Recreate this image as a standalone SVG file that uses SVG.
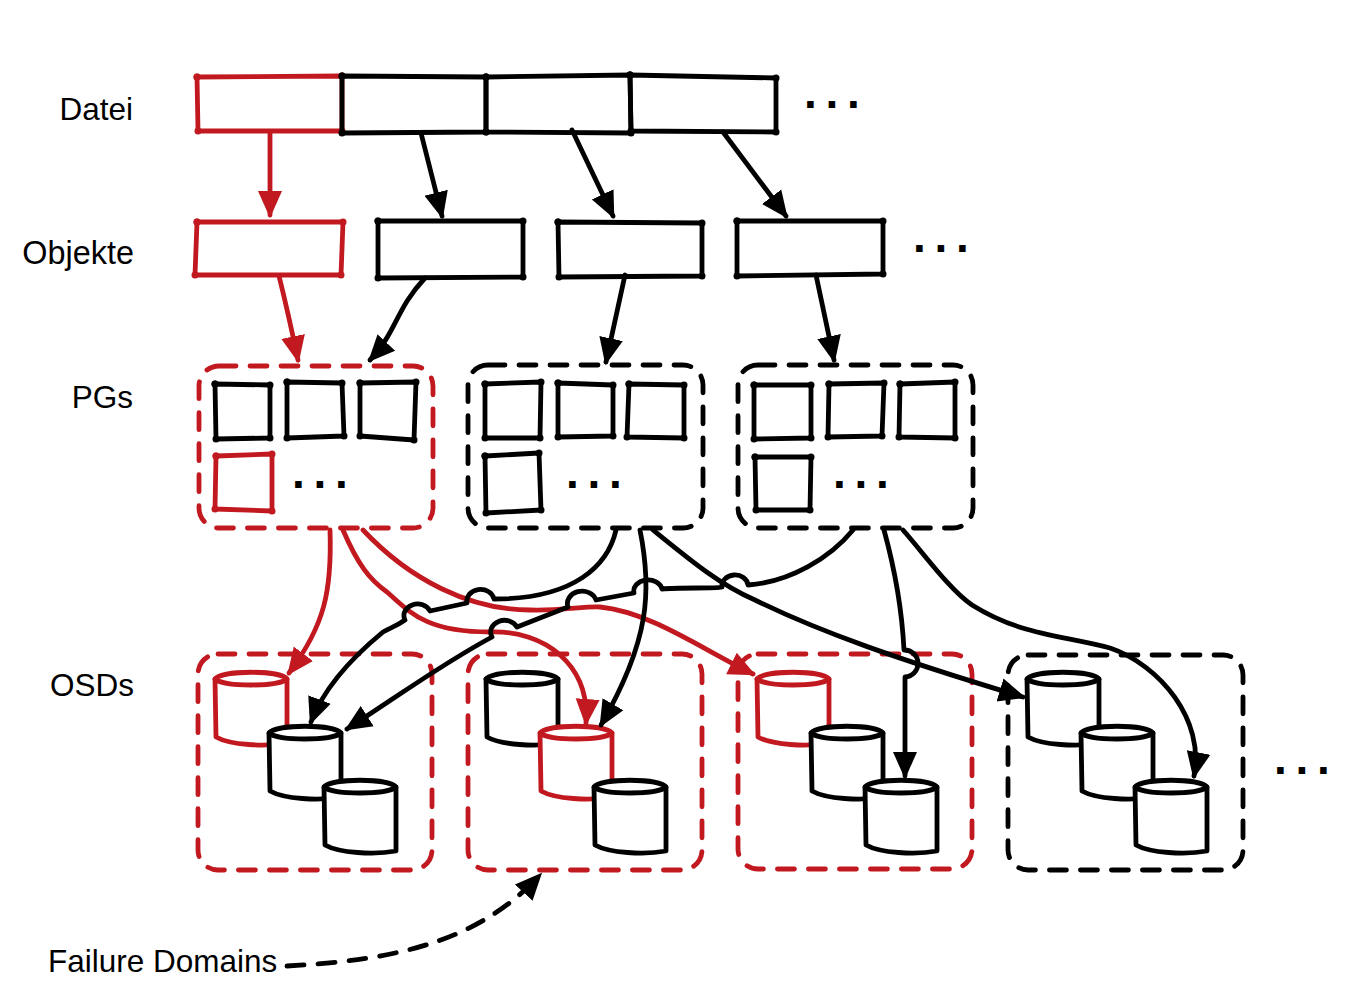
<svg xmlns="http://www.w3.org/2000/svg" xmlns:xlink="http://www.w3.org/1999/xlink" width="1366" height="990" viewBox="0 0 1366 990">
<style>
text{font-family:"Liberation Sans",Arial,sans-serif;font-size:31.5px;fill:#000}
.dots{font-weight:bold;font-size:46px;letter-spacing:8.7px}
.k,.r{fill:none;stroke-width:4.8;stroke-linejoin:round;stroke-linecap:round}
.k{stroke:#000}
.r{stroke:#c1191f}
.kd{marker-start:url(#dk);marker-mid:url(#dk);marker-end:url(#dk)}
.rd{marker-start:url(#dr);marker-mid:url(#dr);marker-end:url(#dr)}
.dash{stroke-dasharray:17 14;stroke-linecap:round}
.ka{marker-end:url(#ak)}
.ra{marker-end:url(#ar)}
.cy{fill:#fff}
</style>
<defs>
<marker id="dk" markerUnits="userSpaceOnUse" markerWidth="8" markerHeight="8" refX="4" refY="4"><circle cx="4" cy="4" r="3.5" fill="#000"/></marker>
<marker id="dr" markerUnits="userSpaceOnUse" markerWidth="8" markerHeight="8" refX="4" refY="4"><circle cx="4" cy="4" r="3.5" fill="#c1191f"/></marker>
<marker id="ak" markerUnits="userSpaceOnUse" markerWidth="28" markerHeight="26" refX="24" refY="13" orient="auto"><path d="M0,1 L27,13 L0,25 Z" fill="#000"/></marker>
<marker id="ar" markerUnits="userSpaceOnUse" markerWidth="28" markerHeight="26" refX="24" refY="13" orient="auto"><path d="M0,1 L27,13 L0,25 Z" fill="#c1191f"/></marker>
<g id="cyl">
<path d="M0,7 L1,65 C15,73 50,75 72,71 L72,7 Z"/>
<path d="M0,7 C8,-2 64,-2 72,7 C64,15 8,15 0,7 Z"/>
</g>
</defs>

<g id="labels">
<text id="label-datei" x="133" y="120" text-anchor="end">Datei</text>
<text id="label-objekte" x="134" y="264" text-anchor="end" style="font-size:32.4px">Objekte</text>
<text id="label-pgs" x="133" y="408" text-anchor="end">PGs</text>
<text id="label-osds" x="134" y="696" text-anchor="end">OSDs</text>
<text id="label-failure" x="48" y="972">Failure Domains</text>
<text class="dots" x="804" y="108">...</text>
<text class="dots" x="913" y="252">...</text>
<text class="dots" x="292" y="488">...</text>
<text class="dots" x="566" y="488">...</text>
<text class="dots" x="833" y="488">...</text>
<text class="dots" x="1274" y="774">...</text>
</g>

<g id="file-row">
<g id="datei-1"><path class="r rd" d="M197,77 L342,76 L342,131 L198,131 Z"/></g>
<g id="datei-2"><path class="k kd" d="M342,76 L486,77 L486,132 L342,133 Z"/></g>
<g id="datei-3"><path class="k kd" d="M486,77 L630,75 L631,133 L486,132 Z"/></g>
<g id="datei-4"><path class="k kd" d="M630,75 L776,78 L776,132 L631,131 Z"/></g>
</g>

<g id="object-row">
<g id="objekt-1"><path class="r rd" d="M197,222 L343,222 L341,275 L195,275 Z"/></g>
<g id="objekt-2"><path class="k kd" d="M378,221 L523,221 L523,277 L378,278 Z"/></g>
<g id="objekt-3"><path class="k kd" d="M558,222 L702,223 L702,276 L559,277 Z"/></g>
<g id="objekt-4"><path class="k kd" d="M737,221 L883,221 L883,274 L737,276 Z"/></g>
</g>

<g id="pg-groups">
<g id="pg-1"><rect class="r dash" x="199" y="366" width="234" height="162" rx="20"/>
<path class="k kd" d="M215,384 L270,385 L270,438 L216,439 Z"/>
<path class="k kd" d="M287,382 L342,383 L344,436 L287,438 Z"/>
<path class="k kd" d="M360,383 L416,382 L414,440 L360,436 Z"/>
<path class="r rd" d="M216,456 L272,454 L272,511 L215,509 Z"/></g>
<g id="pg-2"><rect class="k dash" x="468" y="365" width="235" height="163" rx="20"/>
<path class="k kd" d="M485,384 L541,382 L540,438 L485,438 Z"/>
<path class="k kd" d="M558,383 L613,385 L613,436 L558,437 Z"/>
<path class="k kd" d="M629,384 L684,385 L684,438 L627,437 Z"/>
<path class="k kd" d="M485,456 L539,453 L541,510 L486,513 Z"/></g>
<g id="pg-3"><rect class="k dash" x="738" y="365" width="235" height="163" rx="20"/>
<path class="k kd" d="M754,385 L811,385 L811,438 L754,439 Z"/>
<path class="k kd" d="M829,384 L884,383 L882,436 L828,437 Z"/>
<path class="k kd" d="M900,384 L955,382 L955,438 L899,437 Z"/>
<path class="k kd" d="M755,457 L811,457 L810,510 L756,510 Z"/></g>
</g>

<g id="failure-domains">
<g id="domain-1"><rect class="r dash" x="198" y="654" width="234" height="216" rx="20"/>
<g id="osd-1-1" class="r cy"><use href="#cyl" x="215" y="672"/></g>
<g id="osd-1-2" class="k cy"><use href="#cyl" x="269" y="726"/></g>
<g id="osd-1-3" class="k cy"><use href="#cyl" x="324" y="780"/></g></g>
<g id="domain-2"><rect class="r dash" x="468" y="654" width="234" height="216" rx="20"/>
<g id="osd-2-1" class="k cy"><use href="#cyl" x="486" y="672"/></g>
<g id="osd-2-2" class="r cy"><use href="#cyl" x="540" y="726"/></g>
<g id="osd-2-3" class="k cy"><use href="#cyl" x="594" y="780"/></g></g>
<g id="domain-3"><rect class="r dash" x="738" y="654" width="234" height="215" rx="20"/>
<g id="osd-3-1" class="r cy"><use href="#cyl" x="757" y="672"/></g>
<g id="osd-3-2" class="k cy"><use href="#cyl" x="811" y="726"/></g>
<g id="osd-3-3" class="k cy"><use href="#cyl" x="865" y="780"/></g></g>
<g id="domain-4"><rect class="k dash" x="1008" y="655" width="235" height="215" rx="20"/>
<g id="osd-4-1" class="k cy"><use href="#cyl" x="1027" y="672"/></g>
<g id="osd-4-2" class="k cy"><use href="#cyl" x="1081" y="726"/></g>
<g id="osd-4-3" class="k cy"><use href="#cyl" x="1135" y="780"/></g></g>
</g>

<g id="connectors">
<path class="r ra" d="M270,132 L270,215"/>
<path class="k ka" d="M421,133 L442,216"/>
<path class="k ka" d="M572,130 L613,216"/>
<path class="k ka" d="M723,132 L786,216"/>
<path class="r ra" d="M279,276 Q288,312 298,360"/>
<path class="k ka" d="M425,278 C395,310 398,330 370,360"/>
<path class="k ka" d="M625,275 L606,362"/>
<path class="k ka" d="M816,275 L834,360"/>

<path class="r ra" d="M330,530 C332,590 325,625 289,673"/>
<path class="r ra" d="M343,530 C358,565 370,580 387,592 C410,612 425,632 490,632 C545,630 590,665 586,723"/>
<path class="r ra" d="M363,530 C410,580 470,610 530,610 C560,611 585,606 600,607 C650,612 700,648 753,674"/>

<path class="k ka" d="M616,530 C608,565 575,599 494,599 A13,11 0 0 0 467,603 L430,611 A13,11 0 0 0 405,620 C395,627 390,628 383,632 C355,655 325,685 311,722"/>
<path class="k ka" d="M853,530 C830,558 790,582 748,585 A13,11 0 0 0 722,587 C715,589 680,587 662,589 A14,11 0 0 0 634,593 L596,600 A13,11 0 0 0 568,607 L517,627 A13,11 0 0 0 492,637 C440,665 400,695 347,729"/>
<path class="k ka" d="M640,530 C652,590 650,640 601,725"/>
<path class="k ka" d="M653,530 C690,560 720,585 755,600 C820,632 900,660 1023,697"/>
<path class="k ka" d="M884,530 C895,570 902,610 904,650 A13,13 0 0 1 905,677 L905,776"/>
<path class="k ka" d="M903,530 C925,555 950,590 972,605 C1020,635 1060,635 1110,648 C1160,665 1205,720 1194,776"/>
<path class="k ka dash" d="M287,966 C400,960 480,940 540,875"/>
</g>
</svg>
